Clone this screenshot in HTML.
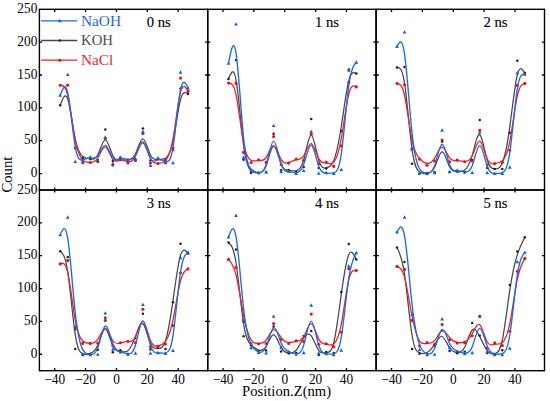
<!DOCTYPE html>
<html><head><meta charset="utf-8"><style>
html,body{margin:0;padding:0;background:#fff;width:550px;height:401px;overflow:hidden}
svg{display:block}
text{font-family:"Liberation Serif",serif;font-size:14px}
.tl{font-size:14.5px}
</style></head><body>
<svg width="550" height="401" viewBox="0 0 550 401">
<rect x="0" y="0" width="550" height="401" fill="#fff"/>
<path d="M60.20 105.30C62.71 98.60 65.21 91.90 67.72 99.02C70.23 106.13 72.73 127.07 75.24 139.20C77.75 151.33 80.25 154.67 82.76 156.50C85.27 158.33 87.77 158.67 90.28 159.00C92.79 159.33 95.29 159.67 97.80 154.73C100.31 149.80 102.81 139.60 105.32 139.77C107.83 139.93 110.33 150.47 112.84 155.57C115.35 160.67 117.85 160.33 120.36 160.17C122.87 160.00 125.37 160.00 127.88 159.83C130.39 159.67 132.89 159.33 135.40 154.10C137.91 148.87 140.41 138.73 142.92 138.98C145.43 139.23 147.93 149.87 150.44 154.93C152.95 160.00 155.45 159.50 157.96 159.42C160.47 159.33 162.97 159.67 165.48 158.17C167.99 156.67 170.49 153.33 173.00 141.40C175.51 129.47 178.01 108.93 180.52 99.60C183.03 90.27 185.53 92.13 188.04 94.00" fill="none" stroke="#474747" stroke-width="1.25" stroke-linejoin="round"/>
<circle cx="60.20" cy="105.30" r="1.25" fill="#1e1e1e"/>
<circle cx="67.72" cy="85.20" r="1.25" fill="#1e1e1e"/>
<circle cx="75.24" cy="148.00" r="1.25" fill="#1e1e1e"/>
<circle cx="82.76" cy="158.00" r="1.25" fill="#1e1e1e"/>
<circle cx="90.28" cy="159.00" r="1.25" fill="#1e1e1e"/>
<circle cx="97.80" cy="160.00" r="1.25" fill="#1e1e1e"/>
<circle cx="105.32" cy="129.40" r="1.25" fill="#1e1e1e"/>
<circle cx="112.84" cy="161.00" r="1.25" fill="#1e1e1e"/>
<circle cx="120.36" cy="160.00" r="1.25" fill="#1e1e1e"/>
<circle cx="127.88" cy="160.00" r="1.25" fill="#1e1e1e"/>
<circle cx="135.40" cy="159.00" r="1.25" fill="#1e1e1e"/>
<circle cx="142.92" cy="128.60" r="1.25" fill="#1e1e1e"/>
<circle cx="150.44" cy="160.50" r="1.25" fill="#1e1e1e"/>
<circle cx="157.96" cy="159.00" r="1.25" fill="#1e1e1e"/>
<circle cx="165.48" cy="160.00" r="1.25" fill="#1e1e1e"/>
<circle cx="173.00" cy="150.00" r="1.25" fill="#1e1e1e"/>
<circle cx="180.52" cy="88.40" r="1.25" fill="#1e1e1e"/>
<circle cx="188.04" cy="94.00" r="1.25" fill="#1e1e1e"/>
<path d="M60.20 85.25C62.71 85.17 65.21 85.08 67.72 95.54C70.23 106.00 72.73 127.00 75.24 139.97C77.75 152.93 80.25 157.87 82.76 160.28C85.27 162.70 87.77 162.60 90.28 162.43C92.79 162.27 95.29 162.03 97.80 158.03C100.31 154.03 102.81 146.27 105.32 146.82C107.83 147.37 110.33 156.23 112.84 159.48C115.35 162.73 117.85 160.37 120.36 160.02C122.87 159.67 125.37 161.33 127.88 161.75C130.39 162.17 132.89 161.33 135.40 156.40C137.91 151.47 140.41 142.43 142.92 142.85C145.43 143.27 147.93 153.13 150.44 158.17C152.95 163.20 155.45 163.40 157.96 163.40C160.47 163.40 162.97 163.20 165.48 160.62C167.99 158.03 170.49 153.07 173.00 138.92C175.51 124.77 178.01 101.43 180.52 91.98C183.03 82.53 185.53 86.97 188.04 91.40" fill="none" stroke="#ee2228" stroke-width="1.3" stroke-linejoin="round"/>
<circle cx="60.20" cy="85.25" r="1.55" fill="#f00c0c"/>
<circle cx="67.72" cy="85.00" r="1.55" fill="#f00c0c"/>
<circle cx="75.24" cy="148.00" r="1.55" fill="#f00c0c"/>
<circle cx="82.76" cy="162.80" r="1.55" fill="#f00c0c"/>
<circle cx="90.28" cy="162.50" r="1.55" fill="#f00c0c"/>
<circle cx="97.80" cy="161.80" r="1.55" fill="#f00c0c"/>
<circle cx="105.32" cy="138.50" r="1.55" fill="#f00c0c"/>
<circle cx="112.84" cy="165.10" r="1.55" fill="#f00c0c"/>
<circle cx="120.36" cy="158.00" r="1.55" fill="#f00c0c"/>
<circle cx="127.88" cy="163.00" r="1.55" fill="#f00c0c"/>
<circle cx="135.40" cy="160.50" r="1.55" fill="#f00c0c"/>
<circle cx="142.92" cy="133.40" r="1.55" fill="#f00c0c"/>
<circle cx="150.44" cy="163.00" r="1.55" fill="#f00c0c"/>
<circle cx="157.96" cy="163.60" r="1.55" fill="#f00c0c"/>
<circle cx="165.48" cy="163.00" r="1.55" fill="#f00c0c"/>
<circle cx="173.00" cy="148.10" r="1.55" fill="#f00c0c"/>
<circle cx="180.52" cy="78.10" r="1.55" fill="#f00c0c"/>
<circle cx="188.04" cy="91.40" r="1.55" fill="#f00c0c"/>
<path d="M60.20 95.20C62.71 88.33 65.21 81.47 67.72 92.53C70.23 103.60 72.73 132.60 75.24 146.83C77.75 161.07 80.25 160.53 82.76 159.77C85.27 159.00 87.77 158.00 90.28 158.05C92.79 158.10 95.29 159.20 97.80 155.90C100.31 152.60 102.81 144.90 105.32 145.45C107.83 146.00 110.33 154.80 112.84 158.13C115.35 161.47 117.85 159.33 120.36 158.68C122.87 158.03 125.37 158.87 127.88 159.35C130.39 159.83 132.89 159.97 135.40 155.28C137.91 150.60 140.41 141.10 142.92 142.00C145.43 142.90 147.93 154.20 150.44 158.60C152.95 163.00 155.45 160.50 157.96 159.88C160.47 159.27 162.97 160.53 165.48 161.32C167.99 162.10 170.49 162.40 173.00 147.47C175.51 132.53 178.01 102.37 180.52 89.92C183.03 77.47 185.53 82.73 188.04 88.00" fill="none" stroke="#1f6ae0" stroke-width="1.35" stroke-linejoin="round"/>
<path d="M60.20 93.25L62.05 96.65L58.35 96.65Z" fill="#0f5ce8"/>
<path d="M67.72 72.65L69.57 76.05L65.87 76.05Z" fill="#0f5ce8"/>
<path d="M75.24 159.65L77.09 163.05L73.39 163.05Z" fill="#0f5ce8"/>
<path d="M82.76 158.05L84.61 161.45L80.91 161.45Z" fill="#0f5ce8"/>
<path d="M90.28 155.05L92.13 158.45L88.43 158.45Z" fill="#0f5ce8"/>
<path d="M97.80 158.35L99.65 161.75L95.95 161.75Z" fill="#0f5ce8"/>
<path d="M105.32 135.25L107.17 138.65L103.47 138.65Z" fill="#0f5ce8"/>
<path d="M112.84 161.65L114.69 165.05L110.99 165.05Z" fill="#0f5ce8"/>
<path d="M120.36 155.25L122.21 158.65L118.51 158.65Z" fill="#0f5ce8"/>
<path d="M127.88 157.75L129.73 161.15L126.03 161.15Z" fill="#0f5ce8"/>
<path d="M135.40 158.15L137.25 161.55L133.55 161.55Z" fill="#0f5ce8"/>
<path d="M142.92 129.65L144.77 133.05L141.07 133.05Z" fill="#0f5ce8"/>
<path d="M150.44 163.55L152.29 166.95L148.59 166.95Z" fill="#0f5ce8"/>
<path d="M157.96 156.05L159.81 159.45L156.11 159.45Z" fill="#0f5ce8"/>
<path d="M165.48 159.85L167.33 163.25L163.63 163.25Z" fill="#0f5ce8"/>
<path d="M173.00 160.75L174.85 164.15L171.15 164.15Z" fill="#0f5ce8"/>
<path d="M180.52 70.25L182.37 73.65L178.67 73.65Z" fill="#0f5ce8"/>
<path d="M188.04 86.05L189.89 89.45L186.19 89.45Z" fill="#0f5ce8"/>
<path d="M228.50 78.90C231.01 72.60 233.51 66.30 236.02 79.77C238.53 93.23 241.03 126.47 243.54 145.32C246.05 164.17 248.55 168.63 251.06 170.85C253.57 173.07 256.07 173.03 258.58 172.85C261.09 172.67 263.59 172.33 266.10 165.80C268.61 159.27 271.11 146.53 273.62 146.25C276.13 145.97 278.63 158.13 281.14 164.17C283.65 170.20 286.15 170.10 288.66 170.38C291.17 170.67 293.67 171.33 296.18 170.83C298.69 170.33 301.19 168.67 303.70 159.83C306.21 151.00 308.71 135.00 311.22 135.18C313.73 135.37 316.23 151.73 318.74 159.97C321.25 168.20 323.75 168.30 326.26 167.95C328.77 167.60 331.27 166.80 333.78 160.55C336.29 154.30 338.79 142.60 341.30 126.52C343.81 110.43 346.31 89.97 348.82 80.42C351.33 70.87 353.83 72.23 356.34 73.60" fill="none" stroke="#474747" stroke-width="1.25" stroke-linejoin="round"/>
<circle cx="228.50" cy="78.90" r="1.25" fill="#1e1e1e"/>
<circle cx="236.02" cy="60.00" r="1.25" fill="#1e1e1e"/>
<circle cx="243.54" cy="159.70" r="1.25" fill="#1e1e1e"/>
<circle cx="251.06" cy="173.10" r="1.25" fill="#1e1e1e"/>
<circle cx="258.58" cy="173.00" r="1.25" fill="#1e1e1e"/>
<circle cx="266.10" cy="172.00" r="1.25" fill="#1e1e1e"/>
<circle cx="273.62" cy="133.80" r="1.25" fill="#1e1e1e"/>
<circle cx="281.14" cy="170.30" r="1.25" fill="#1e1e1e"/>
<circle cx="288.66" cy="170.00" r="1.25" fill="#1e1e1e"/>
<circle cx="296.18" cy="172.00" r="1.25" fill="#1e1e1e"/>
<circle cx="303.70" cy="167.00" r="1.25" fill="#1e1e1e"/>
<circle cx="311.22" cy="119.00" r="1.25" fill="#1e1e1e"/>
<circle cx="318.74" cy="168.10" r="1.25" fill="#1e1e1e"/>
<circle cx="326.26" cy="168.40" r="1.25" fill="#1e1e1e"/>
<circle cx="333.78" cy="166.00" r="1.25" fill="#1e1e1e"/>
<circle cx="341.30" cy="130.90" r="1.25" fill="#1e1e1e"/>
<circle cx="348.82" cy="69.50" r="1.25" fill="#1e1e1e"/>
<circle cx="356.34" cy="73.60" r="1.25" fill="#1e1e1e"/>
<path d="M228.50 83.00C231.01 83.13 233.51 83.27 236.02 94.83C238.53 106.40 241.03 129.40 243.54 142.58C246.05 155.77 248.55 159.13 251.06 160.35C253.57 161.57 256.07 160.63 258.58 160.62C261.09 160.60 263.59 161.50 266.10 157.65C268.61 153.80 271.11 145.20 273.62 145.57C276.13 145.93 278.63 155.27 281.14 159.68C283.65 164.10 286.15 163.60 288.66 162.67C291.17 161.73 293.67 160.37 296.18 159.90C298.69 159.43 301.19 159.87 303.70 155.75C306.21 151.63 308.71 142.97 311.22 143.55C313.73 144.13 316.23 153.97 318.74 158.58C321.25 163.20 323.75 162.60 326.26 163.03C328.77 163.47 331.27 164.93 333.78 162.25C336.29 159.57 338.79 152.73 341.30 138.73C343.81 124.73 346.31 103.57 348.82 93.73C351.33 83.90 353.83 85.40 356.34 86.90" fill="none" stroke="#ee2228" stroke-width="1.3" stroke-linejoin="round"/>
<circle cx="228.50" cy="83.00" r="1.55" fill="#f00c0c"/>
<circle cx="236.02" cy="83.40" r="1.55" fill="#f00c0c"/>
<circle cx="243.54" cy="152.40" r="1.55" fill="#f00c0c"/>
<circle cx="251.06" cy="162.50" r="1.55" fill="#f00c0c"/>
<circle cx="258.58" cy="159.70" r="1.55" fill="#f00c0c"/>
<circle cx="266.10" cy="162.40" r="1.55" fill="#f00c0c"/>
<circle cx="273.62" cy="136.60" r="1.55" fill="#f00c0c"/>
<circle cx="281.14" cy="164.60" r="1.55" fill="#f00c0c"/>
<circle cx="288.66" cy="163.10" r="1.55" fill="#f00c0c"/>
<circle cx="296.18" cy="159.00" r="1.55" fill="#f00c0c"/>
<circle cx="303.70" cy="160.30" r="1.55" fill="#f00c0c"/>
<circle cx="311.22" cy="134.30" r="1.55" fill="#f00c0c"/>
<circle cx="318.74" cy="163.80" r="1.55" fill="#f00c0c"/>
<circle cx="326.26" cy="162.00" r="1.55" fill="#f00c0c"/>
<circle cx="333.78" cy="166.40" r="1.55" fill="#f00c0c"/>
<circle cx="341.30" cy="145.90" r="1.55" fill="#f00c0c"/>
<circle cx="348.82" cy="82.40" r="1.55" fill="#f00c0c"/>
<circle cx="356.34" cy="86.90" r="1.55" fill="#f00c0c"/>
<path d="M228.50 63.40C231.01 50.30 233.51 37.20 236.02 52.87C238.53 68.53 241.03 112.97 243.54 137.45C246.05 161.93 248.55 166.47 251.06 169.03C253.57 171.60 256.07 172.20 258.58 172.43C261.09 172.67 263.59 172.53 266.10 164.67C268.61 156.80 271.11 141.20 273.62 141.08C276.13 140.97 278.63 156.33 281.14 163.95C283.65 171.57 286.15 171.43 288.66 171.75C291.17 172.07 293.67 172.83 296.18 172.72C298.69 172.60 301.19 171.60 303.70 164.60C306.21 157.60 308.71 144.60 311.22 145.07C313.73 145.53 316.23 159.47 318.74 166.33C321.25 173.20 323.75 173.00 326.26 173.03C328.77 173.07 331.27 173.33 333.78 172.80C336.29 172.27 338.79 170.93 341.30 153.73C343.81 136.53 346.31 103.47 348.82 85.57C351.33 67.67 353.83 64.93 356.34 62.20" fill="none" stroke="#1f6ae0" stroke-width="1.35" stroke-linejoin="round"/>
<path d="M228.50 61.45L230.35 64.85L226.65 64.85Z" fill="#0f5ce8"/>
<path d="M236.02 22.15L237.87 25.55L234.17 25.55Z" fill="#0f5ce8"/>
<path d="M243.54 155.45L245.39 158.85L241.69 158.85Z" fill="#0f5ce8"/>
<path d="M251.06 169.05L252.91 172.45L249.21 172.45Z" fill="#0f5ce8"/>
<path d="M258.58 170.85L260.43 174.25L256.73 174.25Z" fill="#0f5ce8"/>
<path d="M266.10 170.45L267.95 173.85L264.25 173.85Z" fill="#0f5ce8"/>
<path d="M273.62 123.65L275.47 127.05L271.77 127.05Z" fill="#0f5ce8"/>
<path d="M281.14 169.75L282.99 173.15L279.29 173.15Z" fill="#0f5ce8"/>
<path d="M288.66 169.35L290.51 172.75L286.81 172.75Z" fill="#0f5ce8"/>
<path d="M296.18 171.65L298.03 175.05L294.33 175.05Z" fill="#0f5ce8"/>
<path d="M303.70 168.65L305.55 172.05L301.85 172.05Z" fill="#0f5ce8"/>
<path d="M311.22 129.65L313.07 133.05L309.37 133.05Z" fill="#0f5ce8"/>
<path d="M318.74 171.45L320.59 174.85L316.89 174.85Z" fill="#0f5ce8"/>
<path d="M326.26 170.85L328.11 174.25L324.41 174.25Z" fill="#0f5ce8"/>
<path d="M333.78 171.65L335.63 175.05L331.93 175.05Z" fill="#0f5ce8"/>
<path d="M341.30 167.65L343.15 171.05L339.45 171.05Z" fill="#0f5ce8"/>
<path d="M348.82 68.45L350.67 71.85L346.97 71.85Z" fill="#0f5ce8"/>
<path d="M356.34 60.25L358.19 63.65L354.49 63.65Z" fill="#0f5ce8"/>
<path d="M397.00 67.50C399.51 67.33 402.01 67.17 404.52 83.22C407.03 99.27 409.53 131.53 412.04 149.30C414.55 167.07 417.05 170.33 419.56 172.03C422.07 173.73 424.57 173.87 427.08 173.60C429.59 173.33 432.09 172.67 434.60 167.30C437.11 161.93 439.61 151.87 442.12 151.87C444.63 151.87 447.13 161.93 449.64 166.88C452.15 171.83 454.65 171.67 457.16 171.73C459.67 171.80 462.17 172.10 464.68 170.18C467.19 168.27 469.69 164.13 472.20 155.38C474.71 146.63 477.21 133.27 479.72 134.60C482.23 135.93 484.73 151.97 487.24 160.15C489.75 168.33 492.25 168.67 494.76 168.85C497.27 169.03 499.77 169.07 502.28 163.03C504.79 157.00 507.29 144.90 509.80 126.83C512.31 108.77 514.81 84.73 517.32 74.77C519.83 64.80 522.33 68.90 524.84 73.00" fill="none" stroke="#474747" stroke-width="1.25" stroke-linejoin="round"/>
<circle cx="397.00" cy="67.50" r="1.25" fill="#1e1e1e"/>
<circle cx="404.52" cy="67.00" r="1.25" fill="#1e1e1e"/>
<circle cx="412.04" cy="163.80" r="1.25" fill="#1e1e1e"/>
<circle cx="419.56" cy="173.60" r="1.25" fill="#1e1e1e"/>
<circle cx="427.08" cy="174.00" r="1.25" fill="#1e1e1e"/>
<circle cx="434.60" cy="172.00" r="1.25" fill="#1e1e1e"/>
<circle cx="442.12" cy="141.80" r="1.25" fill="#1e1e1e"/>
<circle cx="449.64" cy="172.00" r="1.25" fill="#1e1e1e"/>
<circle cx="457.16" cy="171.50" r="1.25" fill="#1e1e1e"/>
<circle cx="464.68" cy="172.40" r="1.25" fill="#1e1e1e"/>
<circle cx="472.20" cy="160.00" r="1.25" fill="#1e1e1e"/>
<circle cx="479.72" cy="119.90" r="1.25" fill="#1e1e1e"/>
<circle cx="487.24" cy="168.00" r="1.25" fill="#1e1e1e"/>
<circle cx="494.76" cy="169.00" r="1.25" fill="#1e1e1e"/>
<circle cx="502.28" cy="169.10" r="1.25" fill="#1e1e1e"/>
<circle cx="509.80" cy="132.80" r="1.25" fill="#1e1e1e"/>
<circle cx="517.32" cy="60.70" r="1.25" fill="#1e1e1e"/>
<circle cx="524.84" cy="73.00" r="1.25" fill="#1e1e1e"/>
<path d="M397.00 83.50C399.51 83.90 402.01 84.30 404.52 95.25C407.03 106.20 409.53 127.70 412.04 140.12C414.55 152.53 417.05 155.87 419.56 158.53C422.07 161.20 424.57 163.20 427.08 163.50C429.59 163.80 432.09 162.40 434.60 158.20C437.11 154.00 439.61 147.00 442.12 147.13C444.63 147.27 447.13 154.53 449.64 157.88C452.15 161.23 454.65 160.67 457.16 160.67C459.67 160.67 462.17 161.23 464.68 161.40C467.19 161.57 469.69 161.33 472.20 156.08C474.71 150.83 477.21 140.57 479.72 141.22C482.23 141.87 484.73 153.43 487.24 158.97C489.75 164.50 492.25 164.00 494.76 163.60C497.27 163.20 499.77 162.90 502.28 160.70C504.79 158.50 507.29 154.40 509.80 141.53C512.31 128.67 514.81 107.03 517.32 95.88C519.83 84.73 522.33 84.07 524.84 83.40" fill="none" stroke="#ee2228" stroke-width="1.3" stroke-linejoin="round"/>
<circle cx="397.00" cy="83.50" r="1.55" fill="#f00c0c"/>
<circle cx="404.52" cy="84.70" r="1.55" fill="#f00c0c"/>
<circle cx="412.04" cy="149.20" r="1.55" fill="#f00c0c"/>
<circle cx="419.56" cy="159.20" r="1.55" fill="#f00c0c"/>
<circle cx="427.08" cy="165.20" r="1.55" fill="#f00c0c"/>
<circle cx="434.60" cy="161.00" r="1.55" fill="#f00c0c"/>
<circle cx="442.12" cy="140.00" r="1.55" fill="#f00c0c"/>
<circle cx="449.64" cy="161.80" r="1.55" fill="#f00c0c"/>
<circle cx="457.16" cy="160.10" r="1.55" fill="#f00c0c"/>
<circle cx="464.68" cy="161.80" r="1.55" fill="#f00c0c"/>
<circle cx="472.20" cy="161.10" r="1.55" fill="#f00c0c"/>
<circle cx="479.72" cy="130.30" r="1.55" fill="#f00c0c"/>
<circle cx="487.24" cy="165.00" r="1.55" fill="#f00c0c"/>
<circle cx="494.76" cy="163.50" r="1.55" fill="#f00c0c"/>
<circle cx="502.28" cy="162.60" r="1.55" fill="#f00c0c"/>
<circle cx="509.80" cy="150.30" r="1.55" fill="#f00c0c"/>
<circle cx="517.32" cy="85.40" r="1.55" fill="#f00c0c"/>
<circle cx="524.84" cy="83.40" r="1.55" fill="#f00c0c"/>
<path d="M397.00 46.50C399.51 41.70 402.01 36.90 404.52 53.83C407.03 70.77 409.53 109.43 412.04 132.92C414.55 156.40 417.05 164.70 419.56 168.85C422.07 173.00 424.57 173.00 427.08 172.95C429.59 172.90 432.09 172.80 434.60 165.67C437.11 158.53 439.61 144.37 442.12 144.23C444.63 144.10 447.13 158.00 449.64 164.67C452.15 171.33 454.65 170.77 457.16 170.73C459.67 170.70 462.17 171.20 464.68 171.60C467.19 172.00 469.69 172.30 472.20 165.72C474.71 159.13 477.21 145.67 479.72 145.70C482.23 145.73 484.73 159.27 487.24 166.17C489.75 173.07 492.25 173.33 494.76 173.47C497.27 173.60 499.77 173.60 502.28 172.53C504.79 171.47 507.29 169.33 509.80 152.55C512.31 135.77 514.81 104.33 517.32 88.87C519.83 73.40 522.33 73.90 524.84 74.40" fill="none" stroke="#1f6ae0" stroke-width="1.35" stroke-linejoin="round"/>
<path d="M397.00 44.55L398.85 47.95L395.15 47.95Z" fill="#0f5ce8"/>
<path d="M404.52 30.15L406.37 33.55L402.67 33.55Z" fill="#0f5ce8"/>
<path d="M412.04 146.15L413.89 149.55L410.19 149.55Z" fill="#0f5ce8"/>
<path d="M419.56 171.05L421.41 174.45L417.71 174.45Z" fill="#0f5ce8"/>
<path d="M427.08 171.05L428.93 174.45L425.23 174.45Z" fill="#0f5ce8"/>
<path d="M434.60 170.75L436.45 174.15L432.75 174.15Z" fill="#0f5ce8"/>
<path d="M442.12 128.25L443.97 131.65L440.27 131.65Z" fill="#0f5ce8"/>
<path d="M449.64 169.95L451.49 173.35L447.79 173.35Z" fill="#0f5ce8"/>
<path d="M457.16 168.25L459.01 171.65L455.31 171.65Z" fill="#0f5ce8"/>
<path d="M464.68 169.75L466.53 173.15L462.83 173.15Z" fill="#0f5ce8"/>
<path d="M472.20 170.65L474.05 174.05L470.35 174.05Z" fill="#0f5ce8"/>
<path d="M479.72 130.25L481.57 133.65L477.87 133.65Z" fill="#0f5ce8"/>
<path d="M487.24 170.85L489.09 174.25L485.39 174.25Z" fill="#0f5ce8"/>
<path d="M494.76 171.65L496.61 175.05L492.91 175.05Z" fill="#0f5ce8"/>
<path d="M502.28 171.65L504.13 175.05L500.43 175.05Z" fill="#0f5ce8"/>
<path d="M509.80 165.25L511.65 168.65L507.95 168.65Z" fill="#0f5ce8"/>
<path d="M517.32 70.95L519.17 74.35L515.47 74.35Z" fill="#0f5ce8"/>
<path d="M524.84 72.45L526.69 75.85L522.99 75.85Z" fill="#0f5ce8"/>
<path d="M60.20 251.20C62.71 253.17 65.21 255.13 67.72 271.42C70.23 287.70 72.73 318.30 75.24 334.62C77.75 350.93 80.25 352.97 82.76 353.82C85.27 354.67 87.77 354.33 90.28 353.45C92.79 352.57 95.29 351.13 97.80 345.10C100.31 339.07 102.81 328.43 105.32 328.85C107.83 329.27 110.33 340.73 112.84 346.15C115.35 351.57 117.85 350.93 120.36 351.23C122.87 351.53 125.37 352.77 127.88 350.72C130.39 348.67 132.89 343.33 135.40 336.63C137.91 329.93 140.41 321.87 142.92 323.80C145.43 325.73 147.93 337.67 150.44 343.37C152.95 349.07 155.45 348.53 157.96 348.43C160.47 348.33 162.97 348.67 165.48 341.05C167.99 333.43 170.49 317.87 173.00 300.33C175.51 282.80 178.01 263.30 180.52 255.15C183.03 247.00 185.53 250.20 188.04 253.40" fill="none" stroke="#474747" stroke-width="1.25" stroke-linejoin="round"/>
<circle cx="60.20" cy="251.20" r="1.25" fill="#1e1e1e"/>
<circle cx="67.72" cy="257.10" r="1.25" fill="#1e1e1e"/>
<circle cx="75.24" cy="348.90" r="1.25" fill="#1e1e1e"/>
<circle cx="82.76" cy="355.00" r="1.25" fill="#1e1e1e"/>
<circle cx="90.28" cy="354.00" r="1.25" fill="#1e1e1e"/>
<circle cx="97.80" cy="349.70" r="1.25" fill="#1e1e1e"/>
<circle cx="105.32" cy="317.80" r="1.25" fill="#1e1e1e"/>
<circle cx="112.84" cy="352.20" r="1.25" fill="#1e1e1e"/>
<circle cx="120.36" cy="350.30" r="1.25" fill="#1e1e1e"/>
<circle cx="127.88" cy="354.00" r="1.25" fill="#1e1e1e"/>
<circle cx="135.40" cy="338.00" r="1.25" fill="#1e1e1e"/>
<circle cx="142.92" cy="313.80" r="1.25" fill="#1e1e1e"/>
<circle cx="150.44" cy="349.60" r="1.25" fill="#1e1e1e"/>
<circle cx="157.96" cy="348.00" r="1.25" fill="#1e1e1e"/>
<circle cx="165.48" cy="349.00" r="1.25" fill="#1e1e1e"/>
<circle cx="173.00" cy="302.30" r="1.25" fill="#1e1e1e"/>
<circle cx="180.52" cy="243.80" r="1.25" fill="#1e1e1e"/>
<circle cx="188.04" cy="253.40" r="1.25" fill="#1e1e1e"/>
<path d="M60.20 263.90C62.71 262.73 65.21 261.57 67.72 272.45C70.23 283.33 72.73 306.27 75.24 320.10C77.75 333.93 80.25 338.67 82.76 341.03C85.27 343.40 87.77 343.40 90.28 343.37C92.79 343.33 95.29 343.27 97.80 339.43C100.31 335.60 102.81 328.00 105.32 328.38C107.83 328.77 110.33 337.13 112.84 340.87C115.35 344.60 117.85 343.70 120.36 342.98C122.87 342.27 125.37 341.73 127.88 341.72C130.39 341.70 132.89 342.20 135.40 336.88C137.91 331.57 140.41 320.43 142.92 321.12C145.43 321.80 147.93 334.30 150.44 340.45C152.95 346.60 155.45 346.40 157.96 345.93C160.47 345.47 162.97 344.73 165.48 341.28C167.99 337.83 170.49 331.67 173.00 319.78C175.51 307.90 178.01 290.30 180.52 280.87C183.03 271.43 185.53 270.17 188.04 268.90" fill="none" stroke="#ee2228" stroke-width="1.3" stroke-linejoin="round"/>
<circle cx="60.20" cy="263.90" r="1.55" fill="#f00c0c"/>
<circle cx="67.72" cy="260.40" r="1.55" fill="#f00c0c"/>
<circle cx="75.24" cy="329.20" r="1.55" fill="#f00c0c"/>
<circle cx="82.76" cy="343.40" r="1.55" fill="#f00c0c"/>
<circle cx="90.28" cy="343.40" r="1.55" fill="#f00c0c"/>
<circle cx="97.80" cy="343.20" r="1.55" fill="#f00c0c"/>
<circle cx="105.32" cy="320.40" r="1.55" fill="#f00c0c"/>
<circle cx="112.84" cy="345.50" r="1.55" fill="#f00c0c"/>
<circle cx="120.36" cy="342.80" r="1.55" fill="#f00c0c"/>
<circle cx="127.88" cy="341.20" r="1.55" fill="#f00c0c"/>
<circle cx="135.40" cy="342.70" r="1.55" fill="#f00c0c"/>
<circle cx="142.92" cy="309.30" r="1.55" fill="#f00c0c"/>
<circle cx="150.44" cy="346.80" r="1.55" fill="#f00c0c"/>
<circle cx="157.96" cy="346.20" r="1.55" fill="#f00c0c"/>
<circle cx="165.48" cy="344.00" r="1.55" fill="#f00c0c"/>
<circle cx="173.00" cy="325.50" r="1.55" fill="#f00c0c"/>
<circle cx="180.52" cy="272.70" r="1.55" fill="#f00c0c"/>
<circle cx="188.04" cy="268.90" r="1.55" fill="#f00c0c"/>
<path d="M60.20 234.90C62.71 229.00 65.21 223.10 67.72 238.37C70.23 253.63 72.73 290.07 75.24 312.88C77.75 335.70 80.25 344.90 82.76 349.60C85.27 354.30 87.77 354.50 90.28 354.55C92.79 354.60 95.29 354.50 97.80 347.57C100.31 340.63 102.81 326.87 105.32 326.00C107.83 325.13 110.33 337.17 112.84 343.65C115.35 350.13 117.85 351.07 120.36 351.93C122.87 352.80 125.37 353.60 127.88 353.80C130.39 354.00 132.89 353.60 135.40 345.30C137.91 337.00 140.41 320.80 142.92 320.82C145.43 320.83 147.93 337.07 150.44 345.10C152.95 353.13 155.45 352.97 157.96 353.00C160.47 353.03 162.97 353.27 165.48 352.88C167.99 352.50 170.49 351.50 173.00 335.53C175.51 319.57 178.01 288.63 180.52 272.25C183.03 255.87 185.53 254.03 188.04 252.20" fill="none" stroke="#1f6ae0" stroke-width="1.35" stroke-linejoin="round"/>
<path d="M60.20 232.95L62.05 236.35L58.35 236.35Z" fill="#0f5ce8"/>
<path d="M67.72 215.25L69.57 218.65L65.87 218.65Z" fill="#0f5ce8"/>
<path d="M75.24 324.55L77.09 327.95L73.39 327.95Z" fill="#0f5ce8"/>
<path d="M82.76 352.15L84.61 355.55L80.91 355.55Z" fill="#0f5ce8"/>
<path d="M90.28 352.75L92.13 356.15L88.43 356.15Z" fill="#0f5ce8"/>
<path d="M97.80 352.45L99.65 355.85L95.95 355.85Z" fill="#0f5ce8"/>
<path d="M105.32 311.15L107.17 314.55L103.47 314.55Z" fill="#0f5ce8"/>
<path d="M112.84 347.25L114.69 350.65L110.99 350.65Z" fill="#0f5ce8"/>
<path d="M120.36 350.05L122.21 353.45L118.51 353.45Z" fill="#0f5ce8"/>
<path d="M127.88 352.45L129.73 355.85L126.03 355.85Z" fill="#0f5ce8"/>
<path d="M135.40 351.25L137.25 354.65L133.55 354.65Z" fill="#0f5ce8"/>
<path d="M142.92 302.65L144.77 306.05L141.07 306.05Z" fill="#0f5ce8"/>
<path d="M150.44 351.35L152.29 354.75L148.59 354.75Z" fill="#0f5ce8"/>
<path d="M157.96 350.85L159.81 354.25L156.11 354.25Z" fill="#0f5ce8"/>
<path d="M165.48 351.55L167.33 354.95L163.63 354.95Z" fill="#0f5ce8"/>
<path d="M173.00 348.55L174.85 351.95L171.15 351.95Z" fill="#0f5ce8"/>
<path d="M180.52 255.75L182.37 259.15L178.67 259.15Z" fill="#0f5ce8"/>
<path d="M188.04 250.25L189.89 253.65L186.19 253.65Z" fill="#0f5ce8"/>
<path d="M228.50 242.50C231.01 244.80 233.51 247.10 236.02 262.73C238.53 278.37 241.03 307.33 243.54 323.33C246.05 339.33 248.55 342.37 251.06 344.82C253.57 347.27 256.07 349.13 258.58 349.98C261.09 350.83 263.59 350.67 266.10 346.60C268.61 342.53 271.11 334.57 273.62 334.73C276.13 334.90 278.63 343.20 281.14 347.68C283.65 352.17 286.15 352.83 288.66 353.08C291.17 353.33 293.67 353.17 296.18 350.23C298.69 347.30 301.19 341.60 303.70 337.92C306.21 334.23 308.71 332.57 311.22 335.77C313.73 338.97 316.23 347.03 318.74 350.55C321.25 354.07 323.75 353.03 326.26 352.67C328.77 352.30 331.27 352.60 333.78 342.60C336.29 332.60 338.79 312.30 341.30 294.13C343.81 275.97 346.31 259.93 348.82 254.50C351.33 249.07 353.83 254.23 356.34 259.40" fill="none" stroke="#474747" stroke-width="1.25" stroke-linejoin="round"/>
<circle cx="228.50" cy="242.50" r="1.25" fill="#1e1e1e"/>
<circle cx="236.02" cy="249.40" r="1.25" fill="#1e1e1e"/>
<circle cx="243.54" cy="336.30" r="1.25" fill="#1e1e1e"/>
<circle cx="251.06" cy="345.40" r="1.25" fill="#1e1e1e"/>
<circle cx="258.58" cy="351.00" r="1.25" fill="#1e1e1e"/>
<circle cx="266.10" cy="350.50" r="1.25" fill="#1e1e1e"/>
<circle cx="273.62" cy="326.60" r="1.25" fill="#1e1e1e"/>
<circle cx="281.14" cy="351.50" r="1.25" fill="#1e1e1e"/>
<circle cx="288.66" cy="353.50" r="1.25" fill="#1e1e1e"/>
<circle cx="296.18" cy="353.00" r="1.25" fill="#1e1e1e"/>
<circle cx="303.70" cy="335.90" r="1.25" fill="#1e1e1e"/>
<circle cx="311.22" cy="330.90" r="1.25" fill="#1e1e1e"/>
<circle cx="318.74" cy="355.10" r="1.25" fill="#1e1e1e"/>
<circle cx="326.26" cy="352.00" r="1.25" fill="#1e1e1e"/>
<circle cx="333.78" cy="352.90" r="1.25" fill="#1e1e1e"/>
<circle cx="341.30" cy="292.00" r="1.25" fill="#1e1e1e"/>
<circle cx="348.82" cy="243.90" r="1.25" fill="#1e1e1e"/>
<circle cx="356.34" cy="259.40" r="1.25" fill="#1e1e1e"/>
<path d="M228.50 259.40C231.01 262.07 233.51 264.73 236.02 274.87C238.53 285.00 241.03 302.60 243.54 315.32C246.05 328.03 248.55 335.87 251.06 339.78C253.57 343.70 256.07 343.70 258.58 343.67C261.09 343.63 263.59 343.57 266.10 340.22C268.61 336.87 271.11 330.23 273.62 329.57C276.13 328.90 278.63 334.20 281.14 337.52C283.65 340.83 286.15 342.17 288.66 342.37C291.17 342.57 293.67 341.63 296.18 341.32C298.69 341.00 301.19 341.30 303.70 336.87C306.21 332.43 308.71 323.27 311.22 323.70C313.73 324.13 316.23 334.17 318.74 339.12C321.25 344.07 323.75 343.93 326.26 344.37C328.77 344.80 331.27 345.80 333.78 343.88C336.29 341.97 338.79 337.13 341.30 324.13C343.81 311.13 346.31 289.97 348.82 279.67C351.33 269.37 353.83 269.93 356.34 270.50" fill="none" stroke="#ee2228" stroke-width="1.3" stroke-linejoin="round"/>
<circle cx="228.50" cy="259.40" r="1.55" fill="#f00c0c"/>
<circle cx="236.02" cy="267.40" r="1.55" fill="#f00c0c"/>
<circle cx="243.54" cy="320.20" r="1.55" fill="#f00c0c"/>
<circle cx="251.06" cy="343.70" r="1.55" fill="#f00c0c"/>
<circle cx="258.58" cy="343.70" r="1.55" fill="#f00c0c"/>
<circle cx="266.10" cy="343.50" r="1.55" fill="#f00c0c"/>
<circle cx="273.62" cy="323.60" r="1.55" fill="#f00c0c"/>
<circle cx="281.14" cy="339.50" r="1.55" fill="#f00c0c"/>
<circle cx="288.66" cy="343.50" r="1.55" fill="#f00c0c"/>
<circle cx="296.18" cy="340.70" r="1.55" fill="#f00c0c"/>
<circle cx="303.70" cy="341.60" r="1.55" fill="#f00c0c"/>
<circle cx="311.22" cy="314.10" r="1.55" fill="#f00c0c"/>
<circle cx="318.74" cy="344.20" r="1.55" fill="#f00c0c"/>
<circle cx="326.26" cy="343.80" r="1.55" fill="#f00c0c"/>
<circle cx="333.78" cy="346.80" r="1.55" fill="#f00c0c"/>
<circle cx="341.30" cy="332.30" r="1.55" fill="#f00c0c"/>
<circle cx="348.82" cy="268.80" r="1.55" fill="#f00c0c"/>
<circle cx="356.34" cy="270.50" r="1.55" fill="#f00c0c"/>
<path d="M228.50 237.10C231.01 229.90 233.51 222.70 236.02 236.73C238.53 250.77 241.03 286.03 243.54 308.08C246.05 330.13 248.55 338.97 251.06 344.18C253.57 349.40 256.07 351.00 258.58 351.87C261.09 352.73 263.59 352.87 266.10 346.83C268.61 340.80 271.11 328.60 273.62 327.68C276.13 326.77 278.63 337.13 281.14 343.03C283.65 348.93 286.15 350.37 288.66 351.52C291.17 352.67 293.67 353.53 296.18 353.70C298.69 353.87 301.19 353.33 303.70 345.15C306.21 336.97 308.71 321.13 311.22 321.18C313.73 321.23 316.23 337.17 318.74 345.25C321.25 353.33 323.75 353.57 326.26 353.83C328.77 354.10 331.27 354.40 333.78 353.82C336.29 353.23 338.79 351.77 341.30 337.02C343.81 322.27 346.31 294.23 348.82 277.97C351.33 261.70 353.83 257.20 356.34 252.70" fill="none" stroke="#1f6ae0" stroke-width="1.35" stroke-linejoin="round"/>
<path d="M228.50 235.15L230.35 238.55L226.65 238.55Z" fill="#0f5ce8"/>
<path d="M236.02 213.55L237.87 216.95L234.17 216.95Z" fill="#0f5ce8"/>
<path d="M243.54 319.35L245.39 322.75L241.69 322.75Z" fill="#0f5ce8"/>
<path d="M251.06 345.85L252.91 349.25L249.21 349.25Z" fill="#0f5ce8"/>
<path d="M258.58 350.65L260.43 354.05L256.73 354.05Z" fill="#0f5ce8"/>
<path d="M266.10 351.05L267.95 354.45L264.25 354.45Z" fill="#0f5ce8"/>
<path d="M273.62 314.45L275.47 317.85L271.77 317.85Z" fill="#0f5ce8"/>
<path d="M281.14 345.55L282.99 348.95L279.29 348.95Z" fill="#0f5ce8"/>
<path d="M288.66 349.85L290.51 353.25L286.81 353.25Z" fill="#0f5ce8"/>
<path d="M296.18 352.45L298.03 355.85L294.33 355.85Z" fill="#0f5ce8"/>
<path d="M303.70 350.85L305.55 354.25L301.85 354.25Z" fill="#0f5ce8"/>
<path d="M311.22 303.35L313.07 306.75L309.37 306.75Z" fill="#0f5ce8"/>
<path d="M318.74 351.15L320.59 354.55L316.89 354.55Z" fill="#0f5ce8"/>
<path d="M326.26 351.85L328.11 355.25L324.41 355.25Z" fill="#0f5ce8"/>
<path d="M333.78 352.75L335.63 356.15L331.93 356.15Z" fill="#0f5ce8"/>
<path d="M341.30 348.35L343.15 351.75L339.45 351.75Z" fill="#0f5ce8"/>
<path d="M348.82 264.25L350.67 267.65L346.97 267.65Z" fill="#0f5ce8"/>
<path d="M356.34 250.75L358.19 254.15L354.49 254.15Z" fill="#0f5ce8"/>
<path d="M397.00 247.50C399.51 252.37 402.01 257.23 404.52 274.13C407.03 291.03 409.53 319.97 412.04 335.23C414.55 350.50 417.05 352.10 419.56 352.95C422.07 353.80 424.57 353.90 427.08 352.53C429.59 351.17 432.09 348.33 434.60 344.43C437.11 340.53 439.61 335.57 442.12 336.47C444.63 337.37 447.13 344.13 449.64 347.92C452.15 351.70 454.65 352.50 457.16 352.65C459.67 352.80 462.17 352.30 464.68 347.27C467.19 342.23 469.69 332.67 472.20 330.00C474.71 327.33 477.21 331.57 479.72 336.57C482.23 341.57 484.73 347.33 487.24 350.53C489.75 353.73 492.25 354.37 494.76 353.88C497.27 353.40 499.77 351.80 502.28 340.12C504.79 328.43 507.29 306.67 509.80 290.20C512.31 273.73 514.81 262.57 517.32 254.62C519.83 246.67 522.33 241.93 524.84 237.20" fill="none" stroke="#474747" stroke-width="1.25" stroke-linejoin="round"/>
<circle cx="397.00" cy="247.50" r="1.25" fill="#1e1e1e"/>
<circle cx="404.52" cy="262.10" r="1.25" fill="#1e1e1e"/>
<circle cx="412.04" cy="348.90" r="1.25" fill="#1e1e1e"/>
<circle cx="419.56" cy="353.70" r="1.25" fill="#1e1e1e"/>
<circle cx="427.08" cy="354.00" r="1.25" fill="#1e1e1e"/>
<circle cx="434.60" cy="345.50" r="1.25" fill="#1e1e1e"/>
<circle cx="442.12" cy="330.60" r="1.25" fill="#1e1e1e"/>
<circle cx="449.64" cy="350.90" r="1.25" fill="#1e1e1e"/>
<circle cx="457.16" cy="353.30" r="1.25" fill="#1e1e1e"/>
<circle cx="464.68" cy="351.80" r="1.25" fill="#1e1e1e"/>
<circle cx="472.20" cy="323.10" r="1.25" fill="#1e1e1e"/>
<circle cx="479.72" cy="335.80" r="1.25" fill="#1e1e1e"/>
<circle cx="487.24" cy="353.10" r="1.25" fill="#1e1e1e"/>
<circle cx="494.76" cy="355.00" r="1.25" fill="#1e1e1e"/>
<circle cx="502.28" cy="350.20" r="1.25" fill="#1e1e1e"/>
<circle cx="509.80" cy="284.90" r="1.25" fill="#1e1e1e"/>
<circle cx="517.32" cy="251.40" r="1.25" fill="#1e1e1e"/>
<circle cx="524.84" cy="237.20" r="1.25" fill="#1e1e1e"/>
<path d="M397.00 266.40C399.51 267.40 402.01 268.40 404.52 277.40C407.03 286.40 409.53 303.40 412.04 316.15C414.55 328.90 417.05 337.40 419.56 341.08C422.07 344.77 424.57 343.63 427.08 343.37C429.59 343.10 432.09 343.70 434.60 340.70C437.11 337.70 439.61 331.10 442.12 330.33C444.63 329.57 447.13 334.63 449.64 337.73C452.15 340.83 454.65 341.97 457.16 342.48C459.67 343.00 462.17 342.90 464.68 341.68C467.19 340.47 469.69 338.13 472.20 333.70C474.71 329.27 477.21 322.73 479.72 324.80C482.23 326.87 484.73 337.53 487.24 341.98C489.75 346.43 492.25 344.67 494.76 344.22C497.27 343.77 499.77 344.63 502.28 342.70C504.79 340.77 507.29 336.03 509.80 323.67C512.31 311.30 514.81 291.30 517.32 279.15C519.83 267.00 522.33 262.70 524.84 258.40" fill="none" stroke="#ee2228" stroke-width="1.3" stroke-linejoin="round"/>
<circle cx="397.00" cy="266.40" r="1.55" fill="#f00c0c"/>
<circle cx="404.52" cy="269.40" r="1.55" fill="#f00c0c"/>
<circle cx="412.04" cy="320.40" r="1.55" fill="#f00c0c"/>
<circle cx="419.56" cy="345.90" r="1.55" fill="#f00c0c"/>
<circle cx="427.08" cy="342.50" r="1.55" fill="#f00c0c"/>
<circle cx="434.60" cy="344.30" r="1.55" fill="#f00c0c"/>
<circle cx="442.12" cy="324.50" r="1.55" fill="#f00c0c"/>
<circle cx="449.64" cy="339.70" r="1.55" fill="#f00c0c"/>
<circle cx="457.16" cy="343.10" r="1.55" fill="#f00c0c"/>
<circle cx="464.68" cy="342.80" r="1.55" fill="#f00c0c"/>
<circle cx="472.20" cy="335.80" r="1.55" fill="#f00c0c"/>
<circle cx="479.72" cy="316.20" r="1.55" fill="#f00c0c"/>
<circle cx="487.24" cy="348.20" r="1.55" fill="#f00c0c"/>
<circle cx="494.76" cy="342.90" r="1.55" fill="#f00c0c"/>
<circle cx="502.28" cy="345.50" r="1.55" fill="#f00c0c"/>
<circle cx="509.80" cy="331.30" r="1.55" fill="#f00c0c"/>
<circle cx="517.32" cy="271.30" r="1.55" fill="#f00c0c"/>
<circle cx="524.84" cy="258.40" r="1.55" fill="#f00c0c"/>
<path d="M397.00 232.10C399.51 227.13 402.01 222.17 404.52 235.87C407.03 249.57 409.53 281.93 412.04 304.02C414.55 326.10 417.05 337.90 419.56 344.63C422.07 351.37 424.57 353.03 427.08 353.82C429.59 354.60 432.09 354.50 434.60 348.55C437.11 342.60 439.61 330.80 442.12 329.70C444.63 328.60 447.13 338.20 449.64 343.55C452.15 348.90 454.65 350.00 457.16 351.02C459.67 352.03 462.17 352.97 464.68 353.23C467.19 353.50 469.69 353.10 472.20 346.85C474.71 340.60 477.21 328.50 479.72 328.32C482.23 328.13 484.73 339.87 487.24 346.18C489.75 352.50 492.25 353.40 494.76 353.92C497.27 354.43 499.77 354.57 502.28 353.58C504.79 352.60 507.29 350.50 509.80 335.03C512.31 319.57 514.81 290.73 517.32 274.73C519.83 258.73 522.33 255.57 524.84 252.40" fill="none" stroke="#1f6ae0" stroke-width="1.35" stroke-linejoin="round"/>
<path d="M397.00 230.15L398.85 233.55L395.15 233.55Z" fill="#0f5ce8"/>
<path d="M404.52 215.25L406.37 218.65L402.67 218.65Z" fill="#0f5ce8"/>
<path d="M412.04 312.35L413.89 315.75L410.19 315.75Z" fill="#0f5ce8"/>
<path d="M419.56 347.75L421.41 351.15L417.71 351.15Z" fill="#0f5ce8"/>
<path d="M427.08 352.75L428.93 356.15L425.23 356.15Z" fill="#0f5ce8"/>
<path d="M434.60 352.45L436.45 355.85L432.75 355.85Z" fill="#0f5ce8"/>
<path d="M442.12 317.05L443.97 320.45L440.27 320.45Z" fill="#0f5ce8"/>
<path d="M449.64 345.85L451.49 349.25L447.79 349.25Z" fill="#0f5ce8"/>
<path d="M457.16 349.15L459.01 352.55L455.31 352.55Z" fill="#0f5ce8"/>
<path d="M464.68 351.95L466.53 355.35L462.83 355.35Z" fill="#0f5ce8"/>
<path d="M472.20 350.75L474.05 354.15L470.35 354.15Z" fill="#0f5ce8"/>
<path d="M479.72 314.45L481.57 317.85L477.87 317.85Z" fill="#0f5ce8"/>
<path d="M487.24 349.65L489.09 353.05L485.39 353.05Z" fill="#0f5ce8"/>
<path d="M494.76 352.35L496.61 355.75L492.91 355.75Z" fill="#0f5ce8"/>
<path d="M502.28 352.75L504.13 356.15L500.43 356.15Z" fill="#0f5ce8"/>
<path d="M509.80 346.45L511.65 349.85L507.95 349.85Z" fill="#0f5ce8"/>
<path d="M517.32 259.95L519.17 263.35L515.47 263.35Z" fill="#0f5ce8"/>
<path d="M524.84 250.45L526.69 253.85L522.99 253.85Z" fill="#0f5ce8"/>
<g stroke="#000" stroke-width="1.4" fill="none"><rect x="39.40" y="9.30" width="168.30" height="180.70"/><rect x="207.70" y="9.30" width="168.30" height="180.70"/><rect x="376.20" y="9.30" width="168.30" height="180.70"/><rect x="39.40" y="190.00" width="168.30" height="180.70"/><rect x="207.70" y="190.00" width="168.30" height="180.70"/><rect x="376.20" y="190.00" width="168.30" height="180.70"/></g>
<path stroke="#000" stroke-width="1.3" fill="none" d="M54.73 190.00V187.40M54.73 9.30V11.90M85.59 190.00V187.40M85.59 9.30V11.90M116.45 190.00V187.40M116.45 9.30V11.90M147.31 190.00V187.40M147.31 9.30V11.90M178.17 190.00V187.40M178.17 9.30V11.90M39.40 173.57H42.00M207.70 173.57H205.10M39.40 140.72H42.00M207.70 140.72H205.10M39.40 107.86H42.00M207.70 107.86H205.10M39.40 75.01H42.00M207.70 75.01H205.10M39.40 42.15H42.00M207.70 42.15H205.10M223.03 190.00V187.40M223.03 9.30V11.90M253.89 190.00V187.40M253.89 9.30V11.90M284.75 190.00V187.40M284.75 9.30V11.90M315.61 190.00V187.40M315.61 9.30V11.90M346.47 190.00V187.40M346.47 9.30V11.90M207.70 173.57H210.30M376.00 173.57H373.40M207.70 140.72H210.30M376.00 140.72H373.40M207.70 107.86H210.30M376.00 107.86H373.40M207.70 75.01H210.30M376.00 75.01H373.40M207.70 42.15H210.30M376.00 42.15H373.40M391.53 190.00V187.40M391.53 9.30V11.90M422.39 190.00V187.40M422.39 9.30V11.90M453.25 190.00V187.40M453.25 9.30V11.90M484.11 190.00V187.40M484.11 9.30V11.90M514.97 190.00V187.40M514.97 9.30V11.90M376.20 173.57H378.80M544.50 173.57H541.90M376.20 140.72H378.80M544.50 140.72H541.90M376.20 107.86H378.80M544.50 107.86H541.90M376.20 75.01H378.80M544.50 75.01H541.90M376.20 42.15H378.80M544.50 42.15H541.90M54.73 370.70V368.10M54.73 190.00V192.60M85.59 370.70V368.10M85.59 190.00V192.60M116.45 370.70V368.10M116.45 190.00V192.60M147.31 370.70V368.10M147.31 190.00V192.60M178.17 370.70V368.10M178.17 190.00V192.60M39.40 354.27H42.00M207.70 354.27H205.10M39.40 321.42H42.00M207.70 321.42H205.10M39.40 288.56H42.00M207.70 288.56H205.10M39.40 255.71H42.00M207.70 255.71H205.10M39.40 222.85H42.00M207.70 222.85H205.10M223.03 370.70V368.10M223.03 190.00V192.60M253.89 370.70V368.10M253.89 190.00V192.60M284.75 370.70V368.10M284.75 190.00V192.60M315.61 370.70V368.10M315.61 190.00V192.60M346.47 370.70V368.10M346.47 190.00V192.60M207.70 354.27H210.30M376.00 354.27H373.40M207.70 321.42H210.30M376.00 321.42H373.40M207.70 288.56H210.30M376.00 288.56H373.40M207.70 255.71H210.30M376.00 255.71H373.40M207.70 222.85H210.30M376.00 222.85H373.40M391.53 370.70V368.10M391.53 190.00V192.60M422.39 370.70V368.10M422.39 190.00V192.60M453.25 370.70V368.10M453.25 190.00V192.60M484.11 370.70V368.10M484.11 190.00V192.60M514.97 370.70V368.10M514.97 190.00V192.60M376.20 354.27H378.80M544.50 354.27H541.90M376.20 321.42H378.80M544.50 321.42H541.90M376.20 288.56H378.80M544.50 288.56H541.90M376.20 255.71H378.80M544.50 255.71H541.90M376.20 222.85H378.80M544.50 222.85H541.90"/>
<g fill="#000"><text transform="translate(37.3 177.12) scale(0.917 1)" text-anchor="end" class="tl">0</text><text transform="translate(37.3 144.27) scale(0.917 1)" text-anchor="end" class="tl">50</text><text transform="translate(37.3 111.41) scale(0.917 1)" text-anchor="end" class="tl">100</text><text transform="translate(37.3 78.56) scale(0.917 1)" text-anchor="end" class="tl">150</text><text transform="translate(37.3 45.70) scale(0.917 1)" text-anchor="end" class="tl">200</text><text transform="translate(37.3 12.85) scale(0.917 1)" text-anchor="end" class="tl">250</text><text transform="translate(37.3 357.82) scale(0.917 1)" text-anchor="end" class="tl">0</text><text transform="translate(37.3 324.97) scale(0.917 1)" text-anchor="end" class="tl">50</text><text transform="translate(37.3 292.11) scale(0.917 1)" text-anchor="end" class="tl">100</text><text transform="translate(37.3 259.26) scale(0.917 1)" text-anchor="end" class="tl">150</text><text transform="translate(37.3 226.40) scale(0.917 1)" text-anchor="end" class="tl">200</text><text transform="translate(37.3 193.55) scale(0.917 1)" text-anchor="end" class="tl">250</text><text transform="translate(54.73 383.6) scale(0.917 1)" text-anchor="middle" class="tl">−40</text><text transform="translate(85.59 383.6) scale(0.917 1)" text-anchor="middle" class="tl">−20</text><text transform="translate(116.45 383.6) scale(0.917 1)" text-anchor="middle" class="tl">0</text><text transform="translate(147.31 383.6) scale(0.917 1)" text-anchor="middle" class="tl">20</text><text transform="translate(178.17 383.6) scale(0.917 1)" text-anchor="middle" class="tl">40</text><text transform="translate(223.03 383.6) scale(0.917 1)" text-anchor="middle" class="tl">−40</text><text transform="translate(253.89 383.6) scale(0.917 1)" text-anchor="middle" class="tl">−20</text><text transform="translate(284.75 383.6) scale(0.917 1)" text-anchor="middle" class="tl">0</text><text transform="translate(315.61 383.6) scale(0.917 1)" text-anchor="middle" class="tl">20</text><text transform="translate(346.47 383.6) scale(0.917 1)" text-anchor="middle" class="tl">40</text><text transform="translate(391.53 383.6) scale(0.917 1)" text-anchor="middle" class="tl">−40</text><text transform="translate(422.39 383.6) scale(0.917 1)" text-anchor="middle" class="tl">−20</text><text transform="translate(453.25 383.6) scale(0.917 1)" text-anchor="middle" class="tl">0</text><text transform="translate(484.11 383.6) scale(0.917 1)" text-anchor="middle" class="tl">20</text><text transform="translate(514.97 383.6) scale(0.917 1)" text-anchor="middle" class="tl">40</text><text x="286.6" y="396" text-anchor="middle" textLength="89" lengthAdjust="spacingAndGlyphs">Position.Z(nm)</text><text transform="translate(12.4,174.6) rotate(-90)" text-anchor="middle" textLength="36" lengthAdjust="spacingAndGlyphs">Count</text><text x="146.70" y="27" stroke="#000" stroke-width="0.12" style="font-size:13.6px" textLength="24" lengthAdjust="spacingAndGlyphs">0 ns</text><text x="315.00" y="27" stroke="#000" stroke-width="0.12" style="font-size:13.6px" textLength="24" lengthAdjust="spacingAndGlyphs">1 ns</text><text x="483.50" y="27" stroke="#000" stroke-width="0.12" style="font-size:13.6px" textLength="24" lengthAdjust="spacingAndGlyphs">2 ns</text><text x="146.70" y="208" stroke="#000" stroke-width="0.12" style="font-size:13.6px" textLength="24" lengthAdjust="spacingAndGlyphs">3 ns</text><text x="315.00" y="208" stroke="#000" stroke-width="0.12" style="font-size:13.6px" textLength="24" lengthAdjust="spacingAndGlyphs">4 ns</text><text x="483.50" y="208" stroke="#000" stroke-width="0.12" style="font-size:13.6px" textLength="24" lengthAdjust="spacingAndGlyphs">5 ns</text></g>
<line x1="41" y1="20.80" x2="77.2" y2="20.80" stroke="#1f6ae0" stroke-width="1.3"/><text x="81" y="26" fill="#1e68e0" textLength="40.0" lengthAdjust="spacingAndGlyphs">NaOH</text><path d="M59.7 18.85L61.55 22.25L57.85 22.25Z" fill="#0f5ce8"/><line x1="41" y1="40.50" x2="77.2" y2="40.50" stroke="#474747" stroke-width="1.3"/><text x="81" y="45" fill="#4a4a4a" textLength="32.0" lengthAdjust="spacingAndGlyphs">KOH</text><circle cx="59.7" cy="40.50" r="1.25" fill="#1e1e1e"/><line x1="41" y1="60.20" x2="77.2" y2="60.20" stroke="#ee2228" stroke-width="1.3"/><text x="81" y="65" fill="#ec2a30" textLength="32.3" lengthAdjust="spacingAndGlyphs">NaCl</text><circle cx="59.7" cy="60.20" r="1.55" fill="#f00c0c"/>
</svg>
</body></html>
